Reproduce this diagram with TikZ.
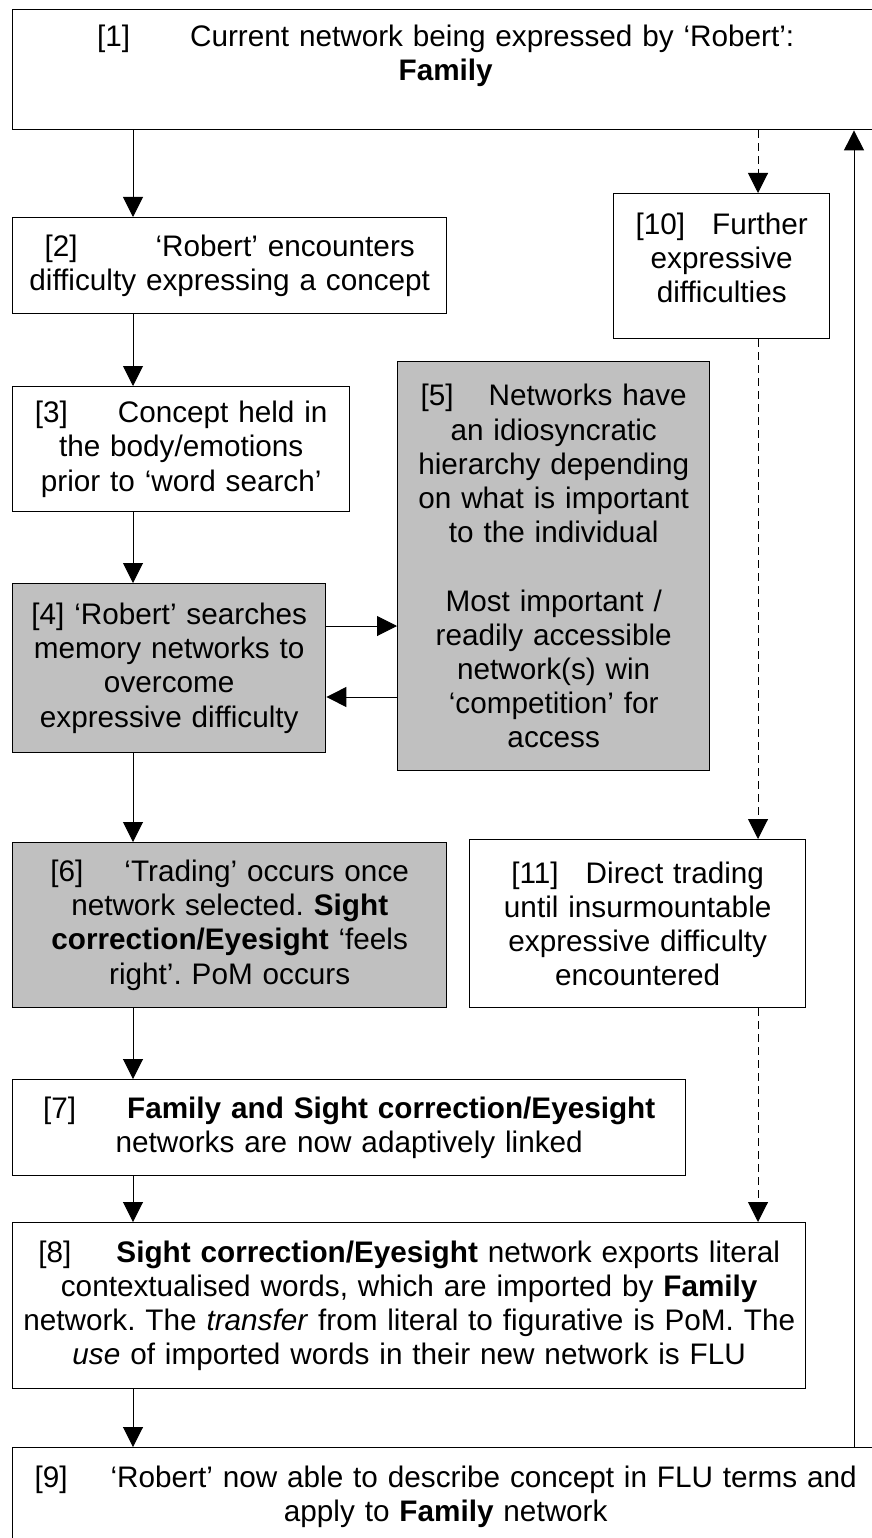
\documentclass[tikz,border=0pt]{standalone}
\usepackage{fontspec}
\setmainfont{Liberation Sans}
\usetikzlibrary{arrows.meta}
\definecolor{boxgrey}{RGB}{192,192,192}
\frenchspacing
\begin{document}
\begin{tikzpicture}[x=1pt, y=-1pt,
    every node/.style = {draw, line width=1.4pt, align=center, anchor=north west, inner sep=0pt,
      font=\fontsize{29.7}{34.2}\selectfont},
    grey/.style = {fill=boxgrey},
    flow/.style = {line width=1pt, -{Triangle[length=20pt, width=20pt]}},
    weak/.style = {flow, dash pattern=on 8pt off 5pt}]

    \useasboundingbox (0,0) rectangle (871,1538);
    \coordinate (spine) at (133,0);
    \coordinate (side) at (758,0);
    \coordinate (back) at (854,0);
    \coordinate (upper) at (0,626);
    \coordinate (lower) at (0,697);

    \node (b1) [minimum width=866pt, minimum height=120pt, text width=846pt] at (12,9)
      {[1]\hspace*{60pt}Current network being expressed by ‘Robert’:\\ \textbf{Family}\\ \mbox{}};
    \node (b2) [minimum width=434pt, minimum height=96pt, text width=420pt] at (12,217)
      {[2]\hspace*{78pt}‘Robert’ encounters\\ difficulty expressing a concept};
    \node (b3) [minimum width=337pt, minimum height=125pt, text width=320pt] at (12,386)
      {[3]\hspace*{50pt}Concept held in\\ the body/emotions\\ prior to ‘word search’};
    \node (b4) [grey, minimum width=313pt, minimum height=169pt, text width=300pt] at (12,583)
      {[4] ‘Robert’ searches\\ memory networks to\\ overcome\\ expressive difficulty};
    \node (b5) [grey, minimum width=312pt, minimum height=409pt, text width=296pt] at (397,361)
      {[5]\hspace*{35pt}Networks have\\ an idiosyncratic\\ hierarchy depending\\ on what is important\\ to the individual\\ \mbox{}\\
       Most important /\\ readily accessible\\ network(s) win\\ ‘competition’ for\\ access};
    \node (b6) [grey, minimum width=434pt, minimum height=165pt, text width=420pt] at (12,842)
      {[6]\hspace*{41pt}‘Trading’ occurs once\\ network selected. \textbf{Sight}\\ \textbf{correction/Eyesight} ‘feels\\ right’. PoM occurs};
    \node (b7) [minimum width=673pt, minimum height=96pt, text width=655pt] at (12,1079)
      {[7]\hspace*{51pt}\textbf{Family and Sight correction/Eyesight}\\ networks are now adaptively linked};
    \node (b8) [minimum width=793pt, minimum height=166pt, text width=777pt] at (12,1222)
      {[8]\hspace*{45pt}\textbf{Sight correction/Eyesight} network exports literal\\
       contextualised words, which are imported by \textbf{Family}\\
       network. The \textit{transfer} from literal to figurative is PoM. The\\
       \textit{use} of imported words in their new network is FLU};
    \node (b9) [minimum width=866pt, minimum height=126pt, text width=846pt] at (12,1447)
      {[9]\hspace*{43pt}‘Robert’ now able to describe concept in FLU terms and\\ apply to \textbf{Family} network\\ \mbox{}};
    \node (b10) [minimum width=216pt, minimum height=145pt, text width=204pt] at (613,193)
      {[10]\hspace*{27pt}Further\\ expressive\\ difficulties\\[-17pt] \mbox{}};
    \node (b11) [minimum width=336pt, minimum height=168pt, text width=322pt] at (469,839)
      {[11]\hspace*{27pt}Direct trading\\ until insurmountable\\ expressive difficulty\\ encountered};

    \draw[flow] (b1.south -| spine) -- (b2.north -| spine);
    \draw[flow] (b2.south -| spine) -- (b3.north -| spine);
    \draw[flow] (b3.south -| spine) -- (b4.north -| spine);
    \draw[flow] (b4.south -| spine) -- (b6.north -| spine);
    \draw[flow] (b6.south -| spine) -- (b7.north -| spine);
    \draw[flow] (b7.south -| spine) -- (b8.north -| spine);
    \draw[flow] (b8.south -| spine) -- (b9.north -| spine);
    \draw[flow] (b4.east |- upper) -- (b5.west |- upper);
    \draw[flow] (b5.west |- lower) -- (b4.east |- lower);
    \draw[weak] (b1.south -| side) -- (b10.north -| side);
    \draw[weak] (b10.south -| side) -- (b11.north -| side);
    \draw[weak] (b11.south -| side) -- (b8.north -| side);
    \draw[flow] (b9.north -| back) -- (b1.south -| back);

\end{tikzpicture}
\end{document}
